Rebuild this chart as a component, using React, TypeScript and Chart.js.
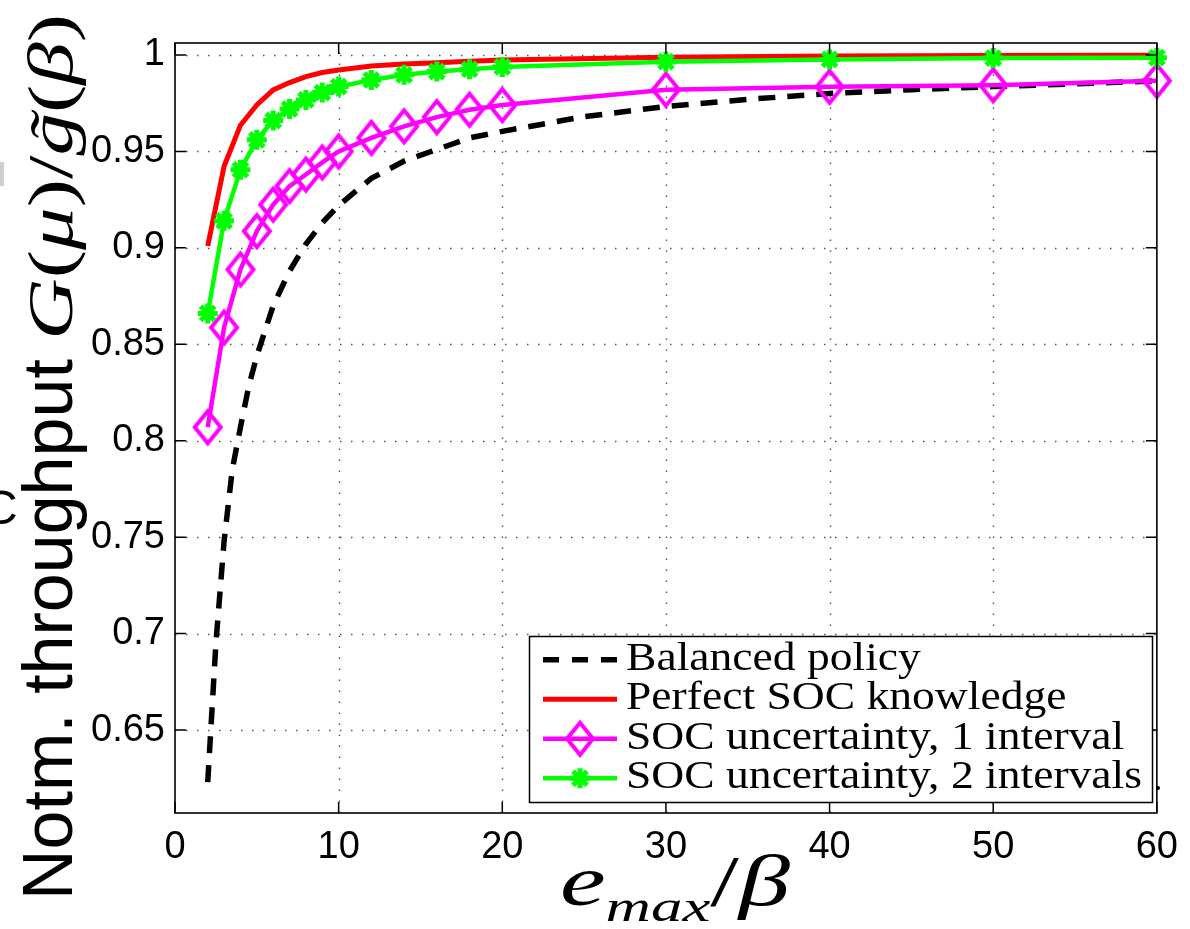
import React, { useEffect, useRef } from 'react';
import { Chart, registerables } from 'chart.js';
Chart.register(...registerables);

// ---- data ----
const X_MARK = [2, 3, 4, 5, 6, 7, 8, 9, 10, 12, 14, 16, 18, 20, 30, 40, 50, 60];
const PERFECT = [0.901, 0.9423, 0.9636, 0.9741, 0.9819, 0.9857, 0.9888, 0.9909, 0.9922, 0.9943, 0.9953, 0.996, 0.9967, 0.9974, 0.9988, 0.9994, 0.9997, 0.9999];
const UNC1 = [0.807, 0.8587, 0.8888, 0.9087, 0.9224, 0.932, 0.938, 0.9443, 0.95, 0.957, 0.963, 0.9678, 0.9716, 0.974, 0.982, 0.9835, 0.9843, 0.9866];
const UNC2 = [0.866, 0.914, 0.9405, 0.956, 0.966, 0.972, 0.9767, 0.9805, 0.9836, 0.987, 0.9897, 0.9914, 0.9926, 0.9938, 0.9965, 0.9977, 0.9984, 0.9986];
const X_BAL = [2, 2.5, 3, 3.5, 4, 4.5, 5, 6, 7, 8, 9, 10, 12, 14, 16, 18, 20, 25, 30, 35, 40, 45, 50, 55, 60];
const BALANCED = [0.623, 0.695, 0.748, 0.785, 0.807, 0.828, 0.844, 0.87, 0.888, 0.902, 0.913, 0.922, 0.936, 0.945, 0.951, 0.957, 0.9604, 0.968, 0.9733, 0.977, 0.98, 0.982, 0.9836, 0.985, 0.9866];

const X_TICKS = [0, 10, 20, 30, 40, 50, 60];
const Y_TICKS = [0.65, 0.7, 0.75, 0.8, 0.85, 0.9, 0.95, 1];
const X_MIN = 0, X_MAX = 60, Y_MIN = 0.607, Y_MAX = 1.0062;

const LEGEND_LABELS = ['Balanced policy', 'Perfect SOC knowledge', 'SOC uncertainty, 1 interval', 'SOC uncertainty, 2 intervals'];
const Y_TITLE_TEXT = 'Notm. throughput ';

const SANS = '"Liberation Sans", Arial, Helvetica, sans-serif';
const SERIF = '"Liberation Serif", "Times New Roman", serif';

const MAGENTA = '#ff00ff';
const GREEN = '#00ff00';
const RED = '#ff0000';

function makeDiamond(color: string, hw: number, hh: number, lw: number) {
  const c = document.createElement('canvas');
  const w = Math.ceil(2 * hw + lw + 4), h = Math.ceil(2 * hh + lw + 4);
  c.width = w; c.height = h;
  const g = c.getContext('2d')!;
  g.strokeStyle = color; g.lineWidth = lw; g.lineJoin = 'miter';
  g.beginPath();
  g.moveTo(w / 2, h / 2 - hh); g.lineTo(w / 2 + hw, h / 2);
  g.lineTo(w / 2, h / 2 + hh); g.lineTo(w / 2 - hw, h / 2);
  g.closePath(); g.stroke();
  return c;
}

function drawStar(ctx: CanvasRenderingContext2D, x: number, y: number, r: number, color: string, lw: number) {
  ctx.save();
  ctx.strokeStyle = color; ctx.lineWidth = lw; ctx.lineCap = 'butt';
  ctx.beginPath();
  for (let i = 0; i < 4; i++) {
    const a = (i * Math.PI) / 4;
    ctx.moveTo(x - Math.cos(a) * r, y - Math.sin(a) * r);
    ctx.lineTo(x + Math.cos(a) * r, y + Math.sin(a) * r);
  }
  ctx.stroke();
  ctx.restore();
}

type Seg = { t: string; font: string; dy?: number; tilde?: boolean };
function drawSegs(ctx: CanvasRenderingContext2D, segs: Seg[], target?: number) {
  let total = 0;
  for (const s of segs) { ctx.font = s.font; total += ctx.measureText(s.t).width; }
  const sc = target ? target / total : 1;
  ctx.save();
  ctx.scale(sc, 1);
  let x = 0;
  for (const s of segs) {
    ctx.font = s.font;
    const w = ctx.measureText(s.t).width;
    ctx.fillText(s.t, x, s.dy || 0);
    if (s.tilde) {
      const tw = ctx.measureText('\u02DC').width;
      ctx.fillText('\u02DC', x + w / 2 - tw / 2 + 4, (s.dy || 0) + 2);
    }
    x += w;
  }
  ctx.restore();
  return total * sc;
}

const decor = {
  id: 'decor',
  beforeDatasetsDraw(chart: any) {
    const { ctx, chartArea: a, scales } = chart;
    const x = scales.x, y = scales.y;
    ctx.save();
    ctx.strokeStyle = '#555';
    ctx.lineWidth = 1.4;
    ctx.setLineDash([1.5, 9.5]);
    for (const v of X_TICKS) {
      if (v === X_MIN || v === X_MAX) continue;
      const px = Math.round(x.getPixelForValue(v)) + 0.5;
      ctx.beginPath(); ctx.moveTo(px, a.bottom); ctx.lineTo(px, a.top); ctx.stroke();
    }
    for (const v of Y_TICKS) {
      const py = Math.round(y.getPixelForValue(v)) + 0.5;
      ctx.beginPath(); ctx.moveTo(a.left, py); ctx.lineTo(a.right, py); ctx.stroke();
    }
    ctx.restore();
  },
  afterDatasetsDraw(chart: any) {
    const { ctx, chartArea: a, scales } = chart;
    const x = scales.x, y = scales.y;
    ctx.save();
    ctx.strokeStyle = '#000'; ctx.lineWidth = 1.5; ctx.setLineDash([]);
    const TL = 11;
    for (const v of X_TICKS) {
      const px = x.getPixelForValue(v);
      ctx.beginPath();
      ctx.moveTo(px, a.bottom); ctx.lineTo(px, a.bottom - TL);
      ctx.moveTo(px, a.top); ctx.lineTo(px, a.top + TL);
      ctx.stroke();
    }
    for (const v of Y_TICKS) {
      const py = y.getPixelForValue(v);
      ctx.beginPath();
      ctx.moveTo(a.left, py); ctx.lineTo(a.left + TL, py);
      ctx.moveTo(a.right, py); ctx.lineTo(a.right - TL, py);
      ctx.stroke();
    }
    ctx.lineWidth = 1.6;
    ctx.strokeRect(a.left, a.top, a.right - a.left, a.bottom - a.top);

    // legend
    const L = { x0: 529, y0: 636, x1: 1152, y1: 802 };
    ctx.fillStyle = '#fff';
    ctx.fillRect(L.x0, L.y0, L.x1 - L.x0, L.y1 - L.y0);
    ctx.strokeStyle = '#000'; ctx.lineWidth = 1.5;
    ctx.strokeRect(L.x0 + 0.5, L.y0 + 0.5, L.x1 - L.x0, L.y1 - L.y0);
    const rowH = (L.y1 - L.y0 - 8) / 4;
    const sx0 = 543, sx1 = 617, tx = 626;
    ctx.font = '41px ' + SERIF;
    const sc = 516 / ctx.measureText(LEGEND_LABELS[3]).width;
    LEGEND_LABELS.forEach((lab, i) => {
      const cy = L.y0 + 4 + rowH * (i + 0.5);
      ctx.save();
      ctx.lineCap = 'butt';
      if (i === 0) {
        ctx.strokeStyle = '#000'; ctx.lineWidth = 5.5; ctx.setLineDash([16, 13]);
      } else if (i === 1) {
        ctx.strokeStyle = RED; ctx.lineWidth = 5;
      } else if (i === 2) {
        ctx.strokeStyle = MAGENTA; ctx.lineWidth = 4.5;
      } else {
        ctx.strokeStyle = GREEN; ctx.lineWidth = 4.5;
      }
      ctx.beginPath(); ctx.moveTo(sx0, cy); ctx.lineTo(sx1, cy); ctx.stroke();
      ctx.restore();
      if (i === 2) ctx.drawImage(DIAMOND, (sx0 + sx1) / 2 - DIAMOND.width / 2, cy - DIAMOND.height / 2);
      if (i === 3) drawStar(ctx, (sx0 + sx1) / 2, cy, 10, GREEN, 5);
      ctx.save();
      ctx.translate(tx, cy + 10);
      ctx.scale(sc, 1);
      ctx.fillStyle = '#000';
      ctx.font = '41px ' + SERIF;
      ctx.textBaseline = 'alphabetic';
      ctx.fillText(lab, 0, 0);
      ctx.restore();
    });
    ctx.fillStyle = '#000';
    ctx.beginPath(); ctx.arc(1158, 788, 2, 0, Math.PI * 2); ctx.fill();
    ctx.restore();
  },
  afterDraw(chart: any) {
    const { ctx } = chart;
    ctx.save();
    ctx.fillStyle = '#000';
    ctx.textBaseline = 'alphabetic';
    // y title
    ctx.save();
    ctx.translate(72, 900);
    ctx.rotate(-Math.PI / 2);
    ctx.font = '70px ' + SANS;
    ctx.fillText(Y_TITLE_TEXT, 0, 0);
    const w1 = ctx.measureText(Y_TITLE_TEXT).width;
    ctx.translate(w1, 0);
    const mf = 'italic 64px ' + SERIF;
    const uf = '64px ' + SERIF;
    drawSegs(ctx, [
      { t: 'G', font: mf }, { t: '(', font: uf }, { t: '\u03BC', font: mf }, { t: ')', font: uf },
      { t: '/', font: uf }, { t: 'g', font: mf, tilde: true }, { t: '(', font: uf }, { t: '\u03B2', font: mf }, { t: ')', font: uf },
    ], 900 - 14 - w1);
    ctx.restore();
    // x title
    ctx.save();
    ctx.translate(560, 905);
    drawSegs(ctx, [
      { t: 'e', font: 'italic 72px ' + SERIF },
      { t: 'max', font: 'italic 44px ' + SERIF, dy: 16 },
      { t: '/', font: '72px ' + SERIF },
      { t: '\u03B2', font: 'italic 72px ' + SERIF },
    ], 230);
    ctx.restore();
    // clipped fragments at the left edge
    ctx.font = '48px ' + SANS;
    ctx.fillText('C', -17, 524);
    ctx.fillStyle = '#cfcfcf';
    ctx.fillRect(0, 162, 4, 24);
    ctx.restore();
  },
};

let DIAMOND: HTMLCanvasElement;

export default function App() {
  const ref = useRef<HTMLCanvasElement>(null);
  useEffect(() => {
    DIAMOND = makeDiamond(MAGENTA, 13, 16, 4);
    const chart = new Chart(ref.current!, {
      type: 'line',
      data: {
        datasets: [
          {
            label: LEGEND_LABELS[0],
            data: X_BAL.map((v, i) => ({ x: v, y: BALANCED[i] })),
            borderColor: '#000', borderWidth: 5.5, borderDash: [17, 12], borderCapStyle: 'butt',
            pointRadius: 0, tension: 0, order: 4, clip: false,
          },
          {
            label: LEGEND_LABELS[1],
            data: X_MARK.map((v, i) => ({ x: v, y: PERFECT[i] })),
            borderColor: RED, borderWidth: 5, pointRadius: 0, tension: 0, order: 3, clip: false,
          },
          {
            label: LEGEND_LABELS[2],
            data: X_MARK.map((v, i) => ({ x: v, y: UNC1[i] })),
            borderColor: MAGENTA, borderWidth: 4.5, pointStyle: DIAMOND, pointRadius: 13,
            tension: 0, order: 2, clip: false,
          },
          {
            label: LEGEND_LABELS[3],
            data: X_MARK.map((v, i) => ({ x: v, y: UNC2[i] })),
            borderColor: GREEN, backgroundColor: GREEN, borderWidth: 4.5, pointStyle: 'star', pointRadius: 10,
            pointBorderWidth: 5, tension: 0, order: 1, clip: false,
          },
        ] as any,
      },
      options: {
        responsive: false,
        animation: false,
        layout: { padding: { left: 0, right: 26, top: 43, bottom: 0 } },
        plugins: { legend: { display: false }, tooltip: { enabled: false } },
        scales: {
          x: {
            type: 'linear', min: X_MIN, max: X_MAX,
            afterBuildTicks: (s: any) => { s.ticks = X_TICKS.map((v) => ({ value: v })); },
            afterFit: (s: any) => { s.height = 116; },
            grid: { display: false, drawTicks: false },
            border: { display: false },
            ticks: { font: { family: SANS, size: 38 }, color: '#000', padding: 12, maxRotation: 0, autoSkip: false },
          },
          y: {
            type: 'linear', min: Y_MIN, max: Y_MAX,
            afterBuildTicks: (s: any) => { s.ticks = Y_TICKS.map((v) => ({ value: v })); },
            afterFit: (s: any) => { s.width = 175; },
            grid: { display: false, drawTicks: false },
            border: { display: false },
            ticks: {
              font: { family: SANS, size: 38 }, color: '#000', padding: 10, autoSkip: false,
              callback: (v: any) => String(+Number(v).toFixed(2)),
            },
          },
        },
      } as any,
      plugins: [decor],
    });
    return () => chart.destroy();
  }, []);
  return (
    <div style={{ position: 'absolute', left: 0, top: 0, width: 1190, height: 929, background: '#fff' }}>
      <canvas ref={ref} width={1190} height={929} />
    </div>
  );
}
